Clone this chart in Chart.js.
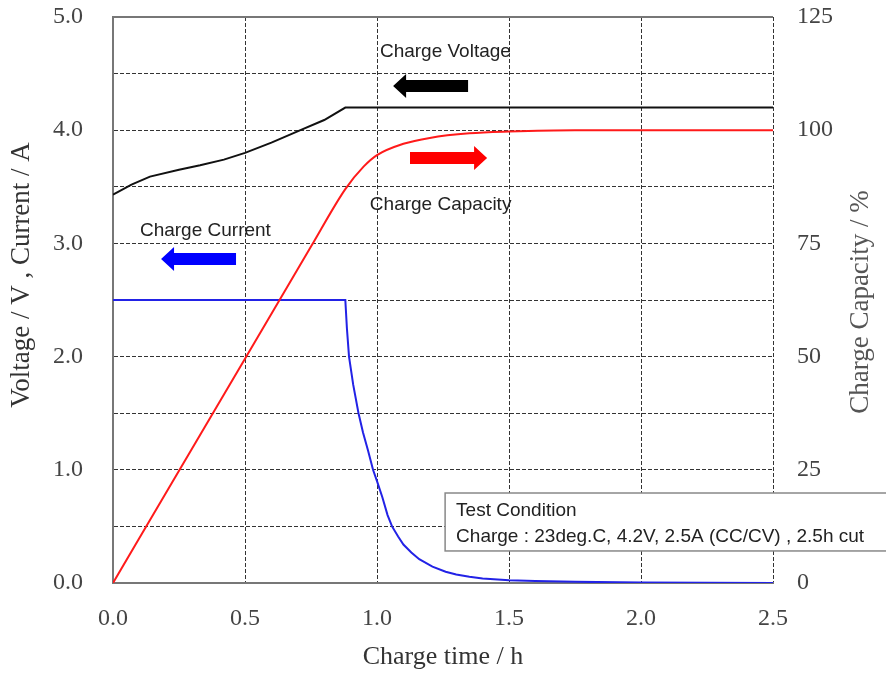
<!DOCTYPE html>
<html>
<head>
<meta charset="utf-8">
<script src="https://cdn.jsdelivr.net/npm/chart.js@4.4.1/dist/chart.umd.min.js"></script>
<style>
  html, body { margin: 0; padding: 0; background: #fff; }
  #wrap { width: 886px; height: 674px; }
</style>
</head>
<body>
<div id="wrap"><canvas id="chargeChart" width="886" height="674"></canvas></div>
<script>
// Data
// charge voltage (V) vs time (h)
const voltTime  = [0, 0.07, 0.14, 0.25, 0.33, 0.42, 0.5, 0.6, 0.71, 0.8, 0.88, 2.5];
const voltValue = [3.43, 3.52, 3.59, 3.65, 3.69, 3.74, 3.8, 3.89, 4.0, 4.09, 4.2, 4.2];

// charge capacity (%) vs time (h)
const capTime  = [0, 0.25, 0.5, 0.75, 0.88, 0.95, 1.0, 1.1, 1.2, 1.35, 1.5, 1.75, 2.5];
const capValue = [0, 24.8, 49.5, 74.3, 87, 92, 94.5, 97, 98.3, 99.3, 99.7, 100, 100];

// charge current (A) vs time (h)
const curTime  = [0, 0.88, 0.886, 0.894, 0.91, 0.93, 0.947, 0.966, 0.985, 1.0, 1.02, 1.04, 1.057, 1.08, 1.1, 1.13, 1.16, 1.21, 1.26, 1.3, 1.35, 1.4, 1.5, 1.6, 1.75, 2.0, 2.5];
const curValue = [2.5, 2.5, 2.25, 2.0, 1.75, 1.5, 1.33, 1.17, 1.0, 0.9, 0.76, 0.6, 0.5, 0.41, 0.34, 0.27, 0.21, 0.145, 0.1, 0.075, 0.055, 0.04, 0.025, 0.017, 0.01, 0.005, 0];

// axis ranges / tick labels
const timeTicks = [0, 0.5, 1.0, 1.5, 2.0, 2.5];
const voltLabels = [0, 1, 2, 3, 4, 5];
const capLabels = [0, 25, 50, 75, 100, 125];

const serif = '"Liberation Serif", "DejaVu Serif", serif';
const sans = '"Liberation Sans", Arial, sans-serif';

function toPoints(xs, ys) {
    return xs.map((x, i) => ({ x: x, y: ys[i] }));
}

// Block arrow from x1 to x2 (head at x2)
function drawArrow(ctx, x1, x2, y, color) {
    const dir = x2 > x1 ? 1 : -1;
    const head = 13, shaft = 6, hh = 12;
    ctx.save();
    ctx.fillStyle = color;
    ctx.beginPath();
    ctx.moveTo(x1, y - shaft);
    ctx.lineTo(x2 - dir * head, y - shaft);
    ctx.lineTo(x2 - dir * head, y - hh);
    ctx.lineTo(x2, y);
    ctx.lineTo(x2 - dir * head, y + hh);
    ctx.lineTo(x2 - dir * head, y + shaft);
    ctx.lineTo(x1, y + shaft);
    ctx.closePath();
    ctx.fill();
    ctx.restore();
}

// Labels, arrows, note box and vertical titles
const annotations = {
    id: 'annotations',
    afterDraw(chart) {
        const ctx = chart.ctx;
        const area = chart.chartArea;
        const xs = chart.scales.x, ys = chart.scales.y;
        const px = v => xs.getPixelForValue(v);
        const py = v => ys.getPixelForValue(v);

        // solid top frame
        ctx.save();
        ctx.strokeStyle = '#777';
        ctx.lineWidth = 2;
        ctx.beginPath();
        ctx.moveTo(area.left, area.top);
        ctx.lineTo(area.right, area.top);
        ctx.stroke();
        ctx.restore();

        ctx.save();
        ctx.font = '19px ' + sans;
        ctx.fillStyle = '#222';
        ctx.textBaseline = 'middle';
        ctx.textAlign = 'left';
        ctx.fillText('Charge Voltage', px(1.011), py(4.69));
        ctx.fillText('Charge Capacity', px(0.973), py(3.34));
        ctx.fillText('Charge Current', px(0.102), py(3.11));
        ctx.restore();

        drawArrow(ctx, px(1.345), px(1.061), py(4.39), '#000');
        drawArrow(ctx, px(1.125), px(1.417), py(3.754), '#ff0000');
        drawArrow(ctx, px(0.466), px(0.182), py(2.862), '#0000ff');

        // test condition box
        const bx = px(1.258), by = py(0.795), bb = py(0.283);
        ctx.save();
        ctx.fillStyle = '#fff';
        ctx.strokeStyle = '#888';
        ctx.lineWidth = 1.5;
        ctx.fillRect(bx, by, 480, bb - by);
        ctx.strokeRect(bx, by, 480, bb - by);
        ctx.font = '19px ' + sans;
        ctx.fillStyle = '#222';
        ctx.textBaseline = 'middle';
        ctx.fillText('Test Condition', bx + 11, by + 18);
        ctx.fillText('Charge : 23deg.C, 4.2V, 2.5A (CC/CV) , 2.5h cut', bx + 11, by + 44);
        ctx.restore();

        // vertical titles
        ctx.save();
        ctx.font = '27px ' + serif;
        ctx.fillStyle = '#333';
        ctx.textAlign = 'center';
        ctx.textBaseline = 'middle';
        ctx.translate(22, 275);
        ctx.rotate(-Math.PI / 2);
        ctx.fillText('Voltage / V , Current / A', 0, 0);
        ctx.restore();

        ctx.save();
        ctx.font = '27px ' + serif;
        ctx.fillStyle = '#555';
        ctx.textAlign = 'center';
        ctx.textBaseline = 'middle';
        ctx.translate(861, 302);
        ctx.rotate(-Math.PI / 2);
        ctx.fillText('Charge Capacity / %', 0, 0);
        ctx.restore();
    }
};

// fixed axis box sizes so the plot area matches the picture
function fixWidth(s) {
    s.width = 113;
    s.paddingTop = 0;
    s.paddingBottom = 0;
}

const ctx = document.getElementById('chargeChart').getContext('2d');
const chargeChart = new Chart(ctx, {
    type: 'scatter',
    data: {
        datasets: [
            {
                label: 'Charge Voltage',
                data: toPoints(voltTime, voltValue),
                yAxisID: 'y',
                borderColor: '#111',
                borderWidth: 2,
                showLine: true,
                pointRadius: 0,
                tension: 0
            },
            {
                label: 'Charge Capacity',
                data: toPoints(capTime, capValue),
                yAxisID: 'y2',
                borderColor: '#ff1a1a',
                borderWidth: 2,
                showLine: true,
                pointRadius: 0,
                cubicInterpolationMode: 'monotone'
            },
            {
                label: 'Charge Current',
                data: toPoints(curTime, curValue),
                yAxisID: 'y',
                borderColor: '#2222e6',
                borderWidth: 2,
                showLine: true,
                pointRadius: 0,
                tension: 0
            }
        ]
    },
    options: {
        responsive: false,
        animation: false,
        devicePixelRatio: 1,
        layout: { padding: { top: 17, left: 0, right: 0, bottom: 0 } },
        plugins: {
            legend: { display: false },
            tooltip: { enabled: false }
        },
        scales: {
            x: {
                type: 'linear',
                min: 0,
                max: 2.5,
                afterBuildTicks: s => { s.ticks = timeTicks.map(v => ({ value: v })); },
                afterFit: s => { s.height = 91; },
                ticks: {
                    padding: 21,
                    color: '#444',
                    font: { family: serif, size: 24 },
                    callback: v => Number(v).toFixed(1)
                },
                grid: { color: '#333', lineWidth: 1, drawTicks: false },
                border: { color: '#777', width: 2, dash: [4, 2] },
                title: {
                    display: true,
                    text: 'Charge time / h',
                    color: '#333',
                    font: { family: serif, size: 26 },
                    padding: { top: 0, bottom: 1 }
                }
            },
            y: {
                position: 'left',
                min: 0,
                max: 5,
                ticks: {
                    stepSize: 0.5,
                    padding: 30,
                    color: '#444',
                    font: { family: serif, size: 24 },
                    callback: v => voltLabels.includes(v) ? v.toFixed(1) : ''
                },
                afterFit: fixWidth,
                grid: { color: '#333', lineWidth: 1, drawTicks: false },
                border: { color: '#777', width: 2, dash: [4, 2] }
            },
            y2: {
                position: 'right',
                min: 0,
                max: 125,
                ticks: {
                    stepSize: 12.5,
                    padding: 24,
                    color: '#444',
                    font: { family: serif, size: 24 },
                    callback: v => capLabels.includes(v) ? String(v) : ''
                },
                afterFit: fixWidth,
                grid: { display: false, drawTicks: false },
                border: { display: false }
            }
        }
    },
    plugins: [annotations]
});
</script>
</body>
</html>
